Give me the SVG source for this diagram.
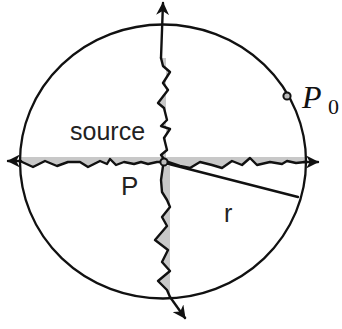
<svg xmlns="http://www.w3.org/2000/svg" width="342" height="329" viewBox="0 0 342 329">
<defs>
<style>
.ln{fill:none;stroke:#111;stroke-width:2.4;stroke-linejoin:round;stroke-linecap:round}
.sh{fill:#c8c8c8;stroke:none}
.lbl{font-family:"Liberation Sans",Arial,sans-serif;fill:#222}
.math{font-family:"Liberation Serif","Times New Roman",serif;fill:#111}
</style>
<marker id="ah" viewBox="0 0 12 12" refX="11" refY="6" markerWidth="13" markerHeight="13" markerUnits="userSpaceOnUse" orient="auto">
<path d="M0,0 L12,6 L0,12 L3.5,6 z" fill="#111"/>
</marker>
</defs>
<rect width="342" height="329" fill="#fff"/>
<g id="shading">
<path class="sh" d="M20,157 H162 L162,162 L157,162 L148,164 L141,162 L134,164 L124,162 L116,165 L110,159 L107,164 L100,161 L88,167 L80,162 L68,162 L57,166 L45,161 L33,167 L20,161 Z"/>
<path class="sh" d="M166,157 H305 L305,162 L296,163 L287,161 L282,164 L270,162 L257,165 L250,158 L242,165 L232,161 L222,168 L212,165 L200,162 L190,168 L180,166 L168,162 Z"/>
<path class="sh" d="M161,58 L163,66 L170,72 L163,83 L168,90 L158,103 L164,108 L167,120 L161,126 L170,129 L164,138 L167,150 L161,155 L164,159 L166,159 L166,58 Z"/>
<path class="sh" d="M163,166 L161,180 L162,192 L167,200 L170,207 L162,217 L167,226 L155,240 L168,250 L162,262 L170,271 L158,281 L167,290 L170,297 L170,166 Z"/>
</g>
<g id="circle">
<ellipse cx="163" cy="161.5" rx="143" ry="137" fill="none" stroke="#111" stroke-width="2.3"/>
</g>
<g id="connectors">
<path class="ln" d="M20,161 L33,167 L45,161 L57,166 L68,162 L80,162 L88,167 L100,161 L107,164 L110,159 L116,165 L124,162 L134,164 L141,162 L148,164 L157,162 L162,162"/>
<path class="ln" d="M21,161 L8,161" marker-end="url(#ah)"/>
<path class="ln" d="M168,162 L180,166 L190,168 L200,162 L212,165 L222,168 L232,161 L242,165 L250,158 L257,165 L270,162 L282,164 L287,161 L296,163 L305,162"/>
<path class="ln" d="M304,162 L318,162" marker-end="url(#ah)"/>
<path class="ln" d="M161,58 L163,66 L170,72 L163,83 L168,90 L158,103 L164,108 L167,120 L161,126 L170,129 L164,138 L167,150 L161,155 L164,159"/>
<path class="ln" d="M161,58 L163,3" marker-end="url(#ah)"/>
<path class="ln" d="M163,166 L161,180 L162,192 L167,200 L170,207 L162,217 L167,226 L155,240 L168,250 L162,262 L170,271 L158,281 L167,290 L170,297"/>
<path class="ln" d="M170,297 L185,318" marker-end="url(#ah)"/>
<path class="ln" d="M165,163 L298,197"/>
</g>
<g id="P">
<circle cx="164" cy="162" r="3.6" fill="#bbb" stroke="#111" stroke-width="2"/>
<text class="lbl" x="121" y="195" font-size="26">P</text>
</g>
<g id="P0">
<circle cx="287" cy="96" r="3.6" fill="#bbb" stroke="#111" stroke-width="2"/>
<text class="math" x="302" y="108" font-size="32" font-style="italic">P</text>
<text class="math" x="328" y="114" font-size="22">0</text>
</g>
<g id="source">
<text class="lbl" x="70" y="140" font-size="25">source</text>
</g>
<g id="r">
<text class="lbl" x="224" y="222" font-size="25">r</text>
</g>
</svg>
